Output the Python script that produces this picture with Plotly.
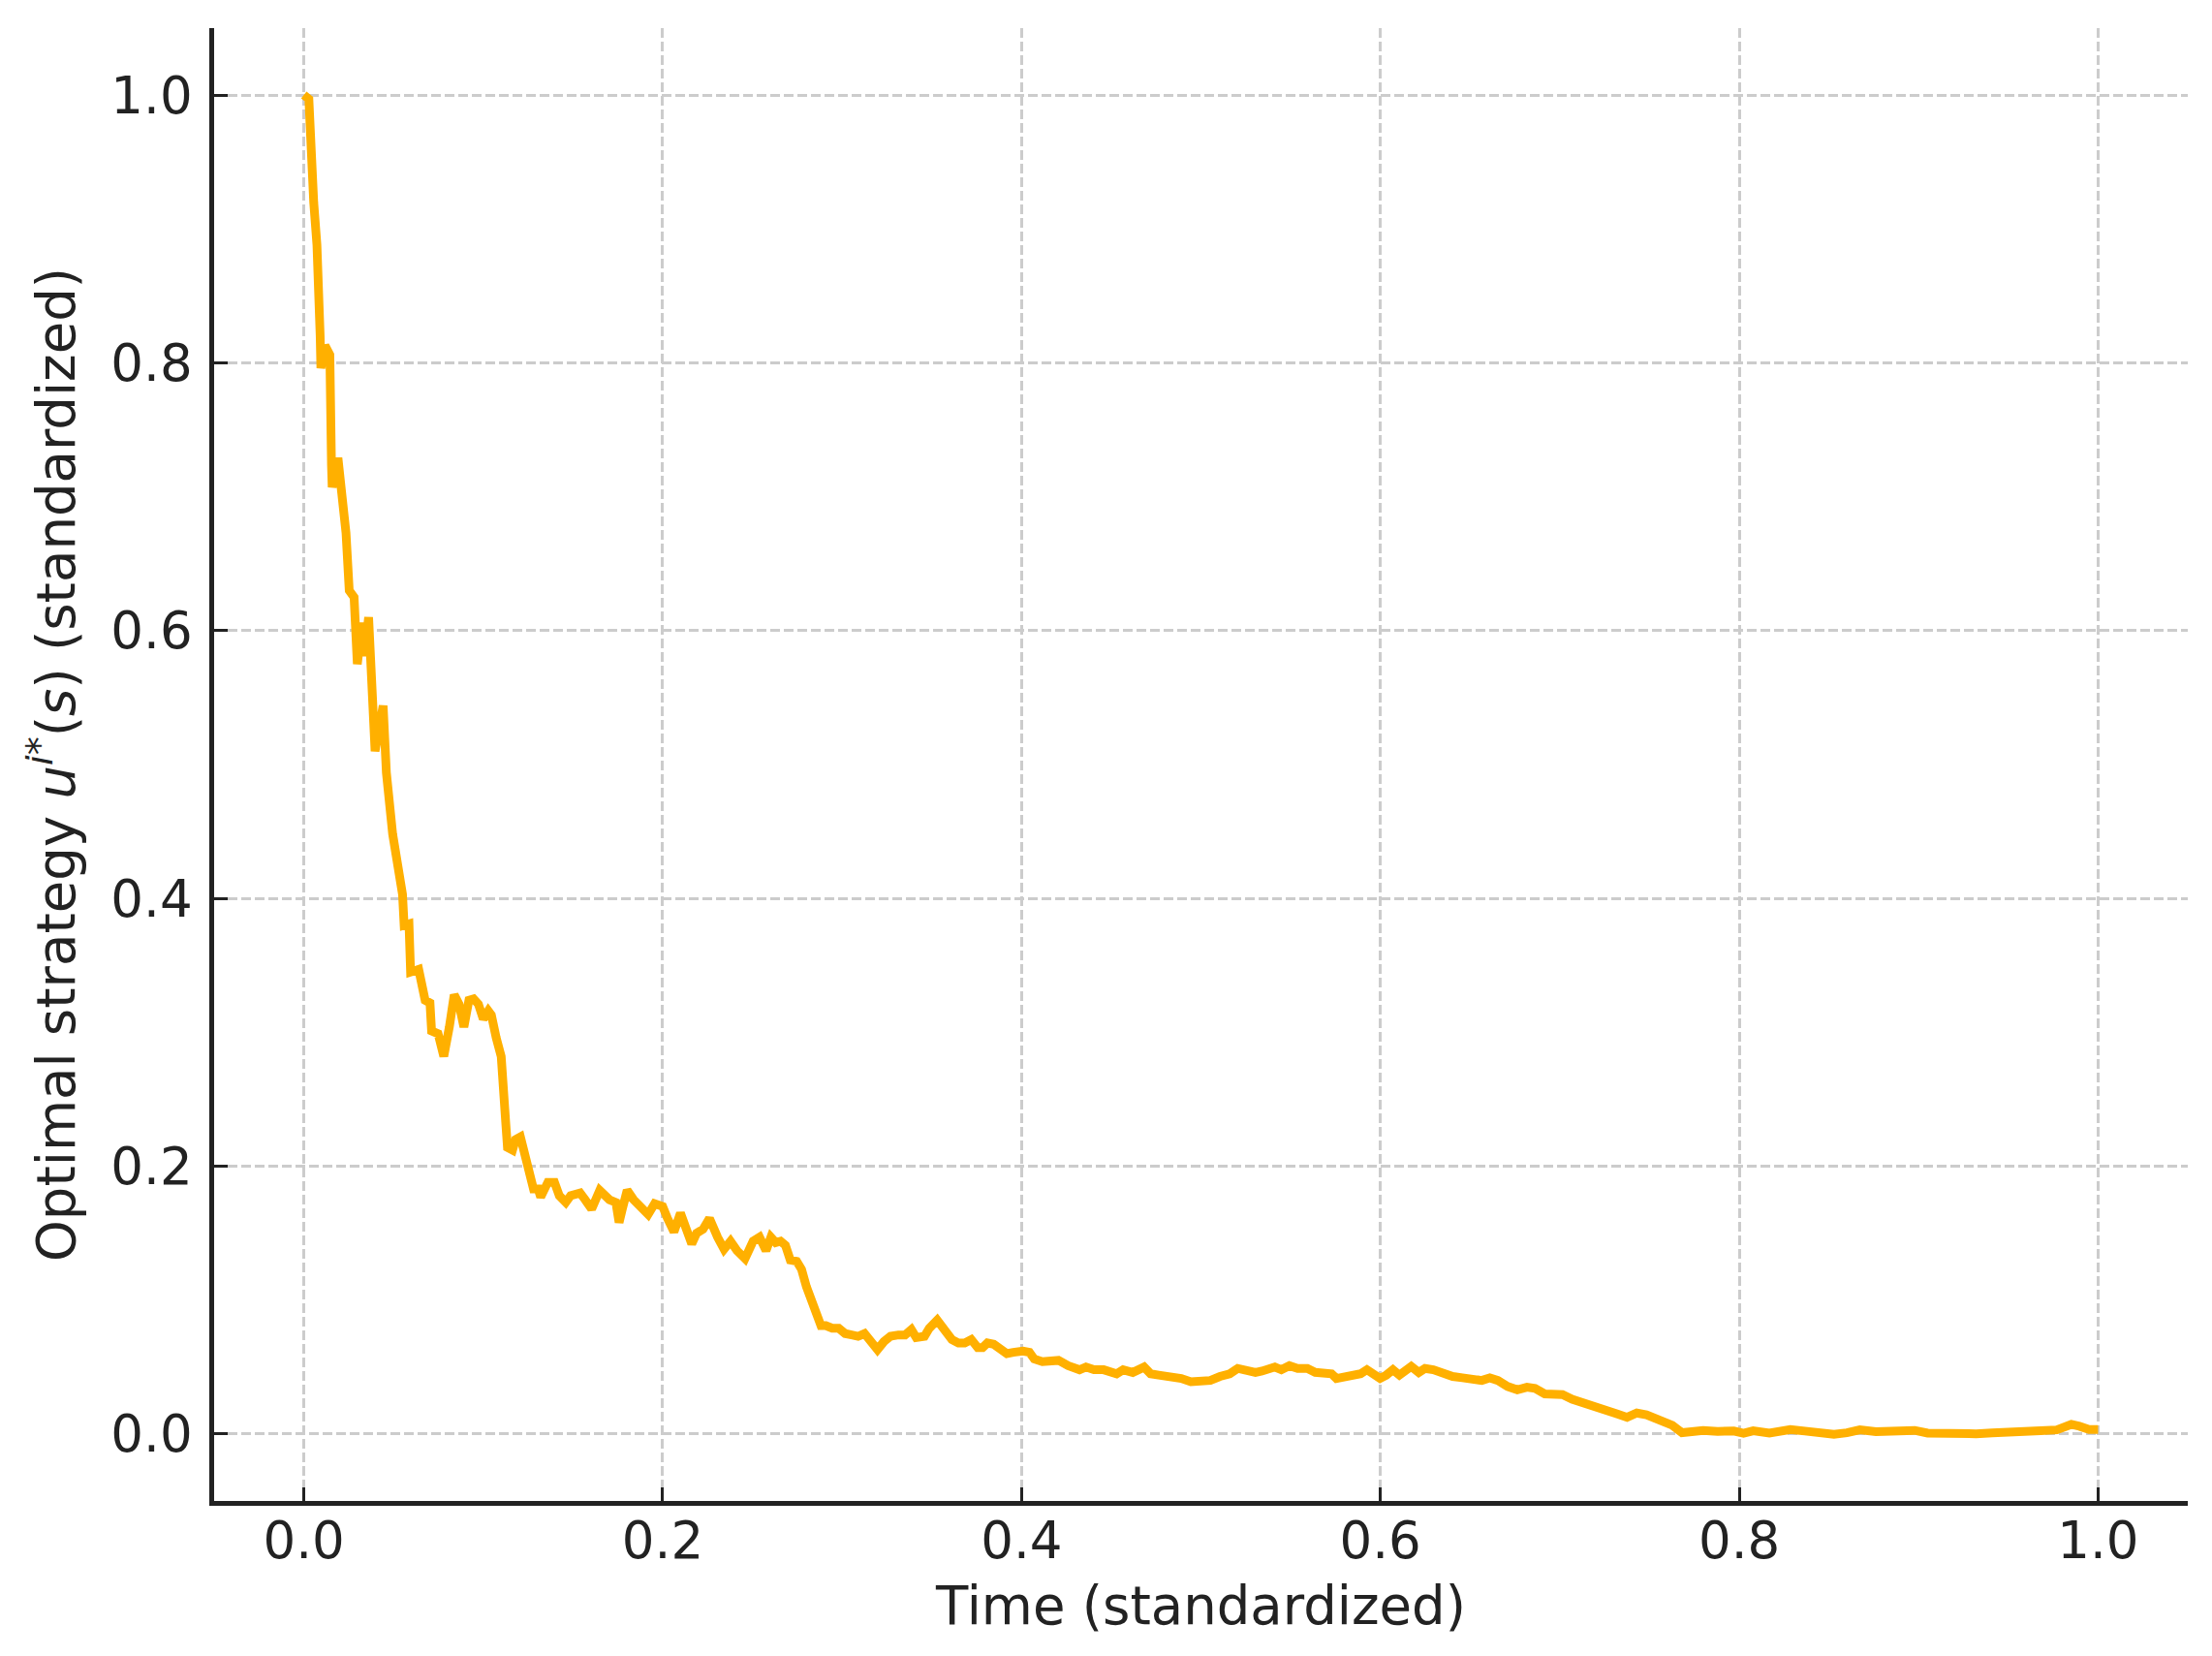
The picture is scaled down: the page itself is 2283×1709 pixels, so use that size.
import plotly.graph_objects as go

# Time (standardized)
time_vals = [
    0.0, 0.0028, 0.0055, 0.0073, 0.0091, 0.0095, 0.0118, 0.0145, 0.0154, 0.0158,
    0.019, 0.0235, 0.0253, 0.028, 0.0298, 0.0325, 0.0338, 0.0361, 0.0397, 0.0442,
    0.046, 0.0495, 0.055, 0.0559, 0.0586, 0.0595, 0.064, 0.0676, 0.0703, 0.0712,
    0.0748, 0.078, 0.0811, 0.0838, 0.0865, 0.0892, 0.092, 0.0946, 0.0973, 0.1,
    0.1028, 0.1045, 0.1072, 0.11, 0.1126, 0.1135, 0.1163, 0.118, 0.1207, 0.1225,
    0.1252, 0.128, 0.1306, 0.132, 0.136, 0.1397, 0.1424, 0.146, 0.1487, 0.1514,
    0.154, 0.1568, 0.1604, 0.1649, 0.1676, 0.1703, 0.1739, 0.1757, 0.1775, 0.1802,
    0.1838, 0.1865, 0.1919, 0.1955, 0.2, 0.2027, 0.2063, 0.2099, 0.2126, 0.2162,
    0.2189, 0.2225, 0.2261, 0.2279, 0.2306, 0.2342, 0.2378, 0.2414, 0.2459, 0.2504,
    0.254, 0.2576, 0.2603, 0.263, 0.2657, 0.2684, 0.2711, 0.2747, 0.2774, 0.2801,
    0.2828, 0.2855, 0.2882, 0.2909, 0.2945, 0.2981, 0.3017, 0.3053, 0.3089, 0.3125,
    0.3161, 0.3197, 0.3233, 0.327, 0.3314, 0.3351, 0.3386, 0.3413, 0.3459, 0.3486,
    0.353, 0.3567, 0.3612, 0.3648, 0.3683, 0.372, 0.3756, 0.3783, 0.381, 0.3845,
    0.3882, 0.3918, 0.3954, 0.4008, 0.4044, 0.4071, 0.4116, 0.4161, 0.4206, 0.426,
    0.4323, 0.4359, 0.4404, 0.4458, 0.453, 0.4566, 0.462, 0.4683, 0.4719, 0.4764,
    0.4836, 0.489, 0.4944, 0.4998, 0.5052, 0.5106, 0.516, 0.5205, 0.525, 0.5304,
    0.534, 0.5412, 0.5448, 0.5493, 0.5539, 0.5593, 0.5637, 0.5701, 0.5728, 0.5755,
    0.5809, 0.5854, 0.589, 0.5925, 0.5961, 0.5998, 0.6033, 0.607, 0.6106, 0.6141,
    0.6172, 0.6214, 0.6249, 0.6295, 0.6349, 0.6403, 0.6457, 0.6511, 0.6565, 0.661,
    0.6655, 0.6709, 0.6763, 0.6817, 0.6862, 0.6916, 0.6961, 0.7015, 0.7069, 0.7123,
    0.7159, 0.7213, 0.7267, 0.7321, 0.7375, 0.7429, 0.7483, 0.7537, 0.7582, 0.7627,
    0.7681, 0.7735, 0.7799, 0.788, 0.797, 0.8024, 0.8078, 0.8168, 0.8285, 0.8366,
    0.8438, 0.8528, 0.86, 0.8672, 0.8762, 0.887, 0.8978, 0.905, 0.914, 0.923,
    0.932, 0.941, 0.95, 0.959, 0.968, 0.977, 0.9815, 0.9851, 0.9896, 0.995,
    1.0,
]

# Optimal strategy u^{i*}(s) (standardized)
strategy_vals = [
    1.0, 0.997, 0.92, 0.888, 0.82, 0.796, 0.813, 0.806, 0.724, 0.707,
    0.729, 0.673, 0.630, 0.625, 0.575, 0.606, 0.581, 0.610, 0.510, 0.544,
    0.494, 0.448, 0.403, 0.380, 0.381, 0.345, 0.347, 0.324, 0.322, 0.301,
    0.299, 0.282, 0.304, 0.328, 0.321, 0.304, 0.324, 0.325, 0.321, 0.310,
    0.316, 0.313, 0.296, 0.282, 0.231, 0.214, 0.212, 0.220, 0.222, 0.212,
    0.193, 0.183, 0.183, 0.177, 0.188, 0.188, 0.178, 0.173, 0.178, 0.179,
    0.180, 0.175, 0.168, 0.182, 0.178, 0.175, 0.173, 0.158, 0.168, 0.182,
    0.175, 0.171, 0.164, 0.172, 0.170, 0.161, 0.151, 0.165, 0.154, 0.142,
    0.150, 0.153, 0.161, 0.154, 0.147, 0.138, 0.144, 0.137, 0.131, 0.144,
    0.147, 0.137, 0.147, 0.143, 0.144, 0.141, 0.130, 0.129, 0.123, 0.110,
    0.101, 0.094, 0.081, 0.081, 0.079, 0.079, 0.075, 0.074, 0.073, 0.075,
    0.068, 0.063, 0.069, 0.073, 0.074, 0.074, 0.078, 0.072, 0.073, 0.079,
    0.085, 0.078, 0.0705, 0.068, 0.068, 0.0705, 0.0645, 0.0645, 0.068, 0.067,
    0.063, 0.060, 0.061, 0.062, 0.061, 0.056, 0.054, 0.055, 0.055, 0.051,
    0.048, 0.050, 0.048, 0.048, 0.045, 0.048, 0.046, 0.050, 0.045, 0.044,
    0.043, 0.0415, 0.039, 0.040, 0.040, 0.043, 0.045, 0.049, 0.048, 0.046,
    0.047, 0.050, 0.048, 0.051, 0.049, 0.049, 0.046, 0.045, 0.045, 0.0415,
    0.043, 0.043, 0.045, 0.048, 0.044, 0.0415, 0.044, 0.048, 0.044, 0.048,
    0.0505, 0.046, 0.049, 0.048, 0.045, 0.043, 0.042, 0.0415, 0.040, 0.042,
    0.040, 0.0355, 0.033, 0.035, 0.034, 0.030, 0.0295, 0.0295, 0.026, 0.024,
    0.022, 0.019, 0.017, 0.015, 0.0125, 0.0157, 0.0143, 0.012, 0.010, 0.0065,
    0.001, 0.002, 0.0027, 0.002, 0.0022, 0.0005, 0.0024, 0.0007, 0.0034, 0.0022,
    0.0009, -0.0002, 0.0009, 0.0031, 0.0017, 0.0017, 0.0027, 0.0007, 0.0, 0.0009,
    0.0002, 0.0009, 0.0009, 0.0017, 0.0024, 0.0031, 0.0053, 0.0072, 0.0058, 0.0034,
    0.0034,
]

x_ticks = [0.0, 0.2, 0.4, 0.6, 0.8, 1.0]
x_tick_labels = ["0.0", "0.2", "0.4", "0.6", "0.8", "1.0"]
y_ticks = [0.0, 0.2, 0.4, 0.6, 0.8, 1.0]
y_tick_labels = ["0.0", "0.2", "0.4", "0.6", "0.8", "1.0"]

FONT = "DejaVu Sans"
TXT = "#222222"

fig = go.Figure()
fig.add_trace(go.Scatter(
    x=time_vals, y=strategy_vals, mode="lines",
    line=dict(color="#FFB000", width=9),
    showlegend=False, hoverinfo="skip",
))

axis_common = dict(
    showgrid=True, gridcolor="#cccccc", gridwidth=2.5, griddash="10px,4px",
    showline=True, linecolor=TXT, linewidth=4.5, mirror=False,
    ticks="inside", ticklen=14, tickwidth=3, tickcolor=TXT,
    zeroline=False,
    tickfont=dict(family=FONT, size=53, color=TXT),
)

fig.update_layout(
    width=2283, height=1709,
    margin=dict(l=213, r=33, t=21, b=168),
    paper_bgcolor="white", plot_bgcolor="white",
    font=dict(family=FONT, size=53, color=TXT),
    xaxis=dict(
        range=[-0.05, 1.05], tickvals=x_ticks, ticktext=x_tick_labels,
        ticklabelstandoff=-9,
        title=dict(text="Time (standardized)", standoff=20,
                   font=dict(family=FONT, size=54.5, color=TXT)),
        **axis_common,
    ),
    yaxis=dict(
        range=[-0.05, 1.05], tickvals=y_ticks, ticktext=y_tick_labels,
        ticklabelstandoff=7,
        title=dict(text="Optimal strategy <i>u</i><sup><i>i</i>*</sup>(<i>s</i>) (standardized)",
                   standoff=21, font=dict(family=FONT, size=54.5, color=TXT)),
        **axis_common,
    ),
)

fig.write_html("out.html")
